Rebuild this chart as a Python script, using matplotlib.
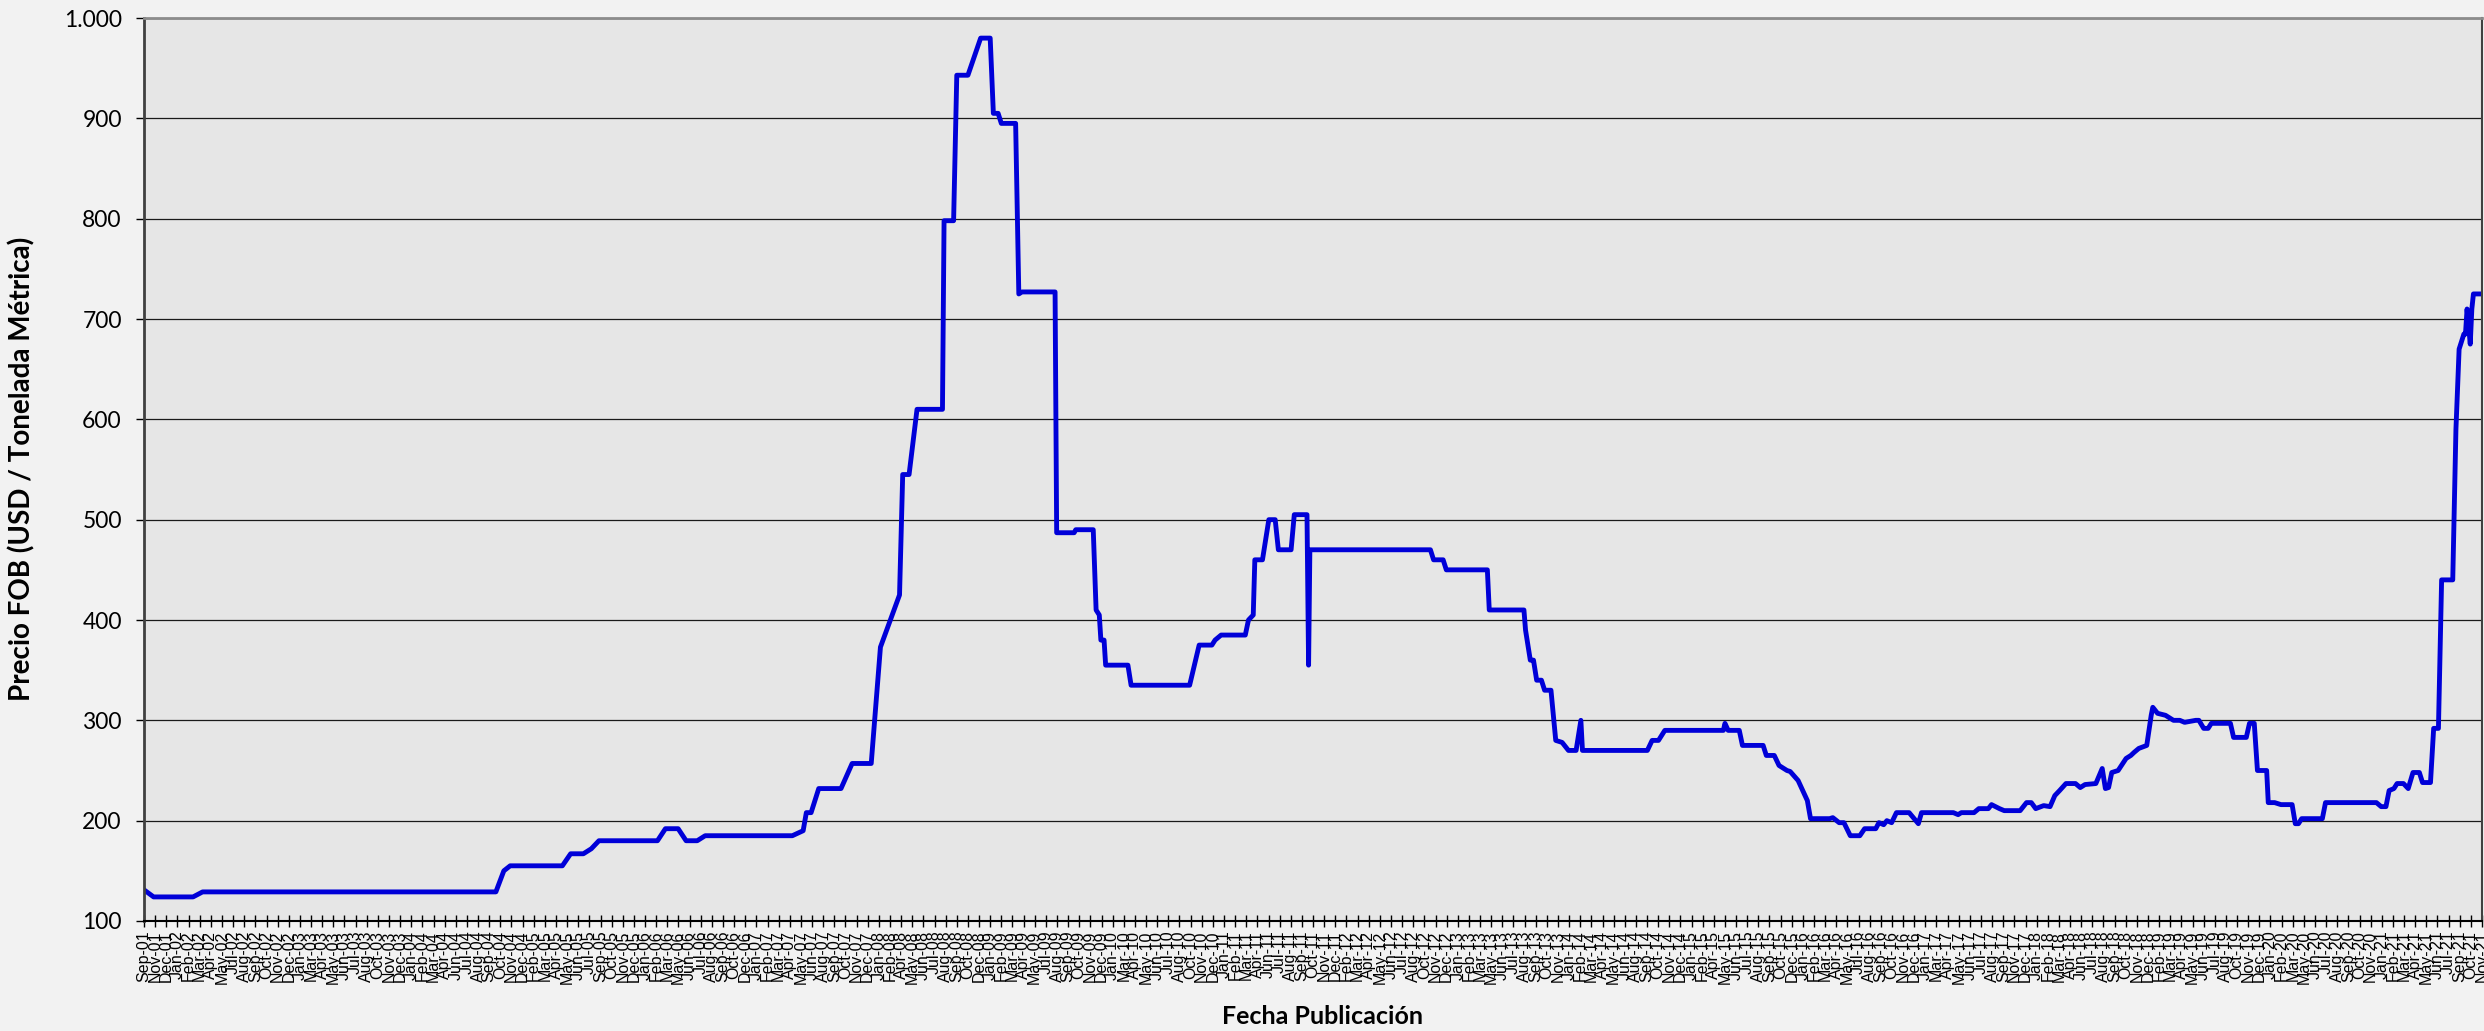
import numpy as np
import pandas as pd
import matplotlib
matplotlib.use("Agg")
import matplotlib.pyplot as plt
import matplotlib.dates as mdates
from matplotlib.ticker import FuncFormatter

# Precio FOB publicado (USD / t) en cada fecha de cambio
fechas = [
    "2001-09-28", "2001-10-28", "2002-03-01", "2002-03-31", "2004-10-08", "2004-11-02",
    "2004-11-22", "2005-05-05", "2005-05-31", "2005-07-10", "2005-08-04", "2005-08-28",
    "2006-02-28", "2006-03-25", "2006-05-04", "2006-05-29", "2006-07-03", "2006-07-28",
    "2007-04-28", "2007-06-01", "2007-06-11", "2007-06-26", "2007-07-20", "2007-09-28",
    "2007-10-23", "2007-11-02", "2008-01-01", "2008-01-30", "2008-03-30", "2008-04-09",
    "2008-04-29", "2008-05-24", "2008-08-12", "2008-08-17", "2008-09-16", "2008-09-26",
    "2008-10-31", "2008-12-10", "2009-01-09", "2009-01-19", "2009-02-03", "2009-02-13",
    "2009-03-30", "2009-04-09", "2009-04-19", "2009-08-01", "2009-08-06", "2009-09-30",
    "2009-10-05", "2009-11-29", "2009-12-08", "2009-12-18", "2009-12-23", "2010-01-02",
    "2010-01-07", "2010-03-18", "2010-03-28", "2010-09-28", "2010-10-13", "2010-10-28",
    "2010-12-07", "2010-12-17", "2011-01-05", "2011-03-22", "2011-04-01", "2011-04-16",
    "2011-04-21", "2011-05-15", "2011-06-04", "2011-06-24", "2011-07-04", "2011-08-13",
    "2011-08-23", "2011-10-02", "2011-10-07", "2011-10-11", "2012-10-24", "2012-11-03",
    "2012-12-03", "2012-12-13", "2013-04-21", "2013-04-27", "2013-08-14", "2013-08-19",
    "2013-09-03", "2013-09-13", "2013-09-23", "2013-10-08", "2013-10-18", "2013-11-07",
    "2013-11-22", "2013-12-12", "2014-01-01", "2014-01-25", "2014-02-09", "2014-02-14",
    "2014-09-06", "2014-09-21", "2014-10-11", "2014-10-31", "2015-05-03", "2015-05-08",
    "2015-05-18", "2015-06-22", "2015-07-02", "2015-09-05", "2015-09-15", "2015-10-10",
    "2015-10-25", "2015-11-19", "2015-11-29", "2015-12-24", "2016-01-22", "2016-02-01",
    "2016-04-01", "2016-04-11", "2016-05-01", "2016-05-16", "2016-06-05", "2016-07-05",
    "2016-07-20", "2016-08-24", "2016-09-03", "2016-09-18", "2016-09-28", "2016-10-13",
    "2016-10-28", "2016-12-07", "2017-01-05", "2017-01-15", "2017-04-25", "2017-05-10",
    "2017-05-20", "2017-06-29", "2017-07-14", "2017-08-13", "2017-08-23", "2017-09-17",
    "2017-10-02", "2017-11-21", "2017-12-11", "2017-12-26", "2018-01-09", "2018-02-03",
    "2018-02-23", "2018-03-10", "2018-03-25", "2018-04-14", "2018-05-14", "2018-05-29",
    "2018-06-13", "2018-07-17", "2018-08-06", "2018-08-16", "2018-08-26", "2018-09-05",
    "2018-09-25", "2018-10-20", "2018-11-04", "2018-11-14", "2018-11-29", "2018-12-24",
    "2019-01-07", "2019-01-12", "2019-01-27", "2019-02-21", "2019-03-18", "2019-04-07",
    "2019-04-22", "2019-05-27", "2019-06-06", "2019-06-21", "2019-07-05", "2019-07-15",
    "2019-09-13", "2019-09-23", "2019-11-02", "2019-11-12", "2019-11-27", "2019-12-07",
    "2020-01-05", "2020-01-10", "2020-01-30", "2020-02-19", "2020-03-25", "2020-04-04",
    "2020-04-14", "2020-04-24", "2020-06-28", "2020-07-08", "2020-12-15", "2020-12-30",
    "2021-01-14", "2021-01-24", "2021-02-08", "2021-02-18", "2021-03-10", "2021-03-25",
    "2021-04-09", "2021-04-29", "2021-05-09", "2021-06-03", "2021-06-13", "2021-06-28",
    "2021-07-08", "2021-08-12", "2021-08-22", "2021-09-01", "2021-09-06", "2021-09-16",
    "2021-09-21", "2021-09-26", "2021-10-06", "2021-10-11", "2021-10-16", "2021-11-12",
]
precios = [
    131, 124, 124, 129, 129, 150,
    155, 155, 167, 167, 172, 180,
    180, 192, 192, 180, 180, 185,
    185, 190, 208, 208, 232, 232,
    250, 257, 257, 373, 425, 545,
    545, 610, 610, 798, 798, 943,
    943, 980, 980, 905, 905, 895,
    895, 725, 727, 727, 487, 487,
    490, 490, 410, 405, 380, 380,
    355, 355, 335, 335, 355, 375,
    375, 380, 385, 385, 400, 405,
    460, 460, 500, 500, 470, 470,
    505, 505, 355, 470, 470, 460,
    460, 450, 450, 410, 410, 390,
    360, 360, 340, 340, 330, 330,
    280, 278, 270, 270, 300, 270,
    270, 280, 280, 290, 290, 297,
    290, 290, 275, 275, 265, 265,
    255, 250, 249, 240, 220, 202,
    202, 203, 198, 198, 185, 185,
    192, 192, 198, 196, 200, 198,
    208, 208, 197, 208, 208, 206,
    208, 208, 212, 212, 216, 212,
    210, 210, 218, 218, 212, 215,
    214, 225, 230, 237, 237, 233,
    236, 237, 252, 232, 233, 248,
    250, 262, 265, 268, 272, 275,
    305, 313, 307, 305, 300, 300,
    298, 300, 300, 292, 292, 297,
    297, 283, 283, 297, 297, 250,
    250, 218, 218, 216, 216, 197,
    197, 202, 202, 218, 218, 214,
    214, 230, 232, 237, 237, 232,
    248, 248, 238, 238, 292, 292,
    440, 440, 590, 670, 675, 685,
    685, 710, 675, 710, 725, 725,
]

# eje de fechas: una marca cada 35 dias
inicio_eje = "2001-09-28"
paso_dias = 35
n_marcas = 211

x = pd.to_datetime(fechas)
marcas = pd.Timestamp(inicio_eje) + pd.to_timedelta(np.arange(n_marcas) * paso_dias, unit="D")

fig = plt.figure(figsize=(24.84, 10.31), dpi=100, facecolor="#f2f2f2")
ax = fig.add_axes([0.058, 0.1067, 0.9412, 0.8758])
ax.set_facecolor("#e6e6e6")

ax.plot(x, precios, color="#0000d8", lw=3.5)

# eje Y
ax.set_ylim(100, 1000)
ax.set_yticks(np.arange(100, 1001, 100))
ax.yaxis.set_major_formatter(FuncFormatter(lambda v, p: f"{int(v):,}".replace(",", ".")))
ax.yaxis.grid(True, color="#1a1a1a", lw=0.9)
ax.set_axisbelow(True)
ax.tick_params(axis="y", direction="out", length=6, width=1, labelsize=16.5, pad=10)
for lab in ax.get_yticklabels():
    lab.set_family("Lato")

# eje X
ax.set_xlim(marcas[0], marcas[-1])
ax.set_xticks(marcas)
ax.xaxis.set_major_formatter(mdates.DateFormatter("%b-%y"))
ax.tick_params(axis="x", direction="inout", length=8, width=1, labelsize=11.5,
               labelrotation=90, pad=3)
for lab in ax.get_xticklabels():
    lab.set_family("Liberation Sans")

ax.spines["top"].set_color("#8c8c8c")
ax.spines["top"].set_linewidth(2)
ax.spines["left"].set_color("#404040")
ax.spines["left"].set_linewidth(2)
ax.spines["right"].set_color("#404040")
ax.spines["right"].set_linewidth(1.5)
ax.spines["bottom"].set_color("#000000")
ax.spines["bottom"].set_linewidth(1.5)

fig.text(1322 / 2484, 1 - 1017 / 1031, "Fecha Publicación", ha="center", va="center",
         fontsize=18, fontweight="bold", family="Lato")
fig.text(22 / 2484, 0.545, "Precio FOB (USD / Tonelada Métrica)", ha="center", va="center",
         rotation=90, fontsize=20, fontweight="bold", family="Lato")

fig.savefig("out.png", dpi=100, facecolor=fig.get_facecolor())
